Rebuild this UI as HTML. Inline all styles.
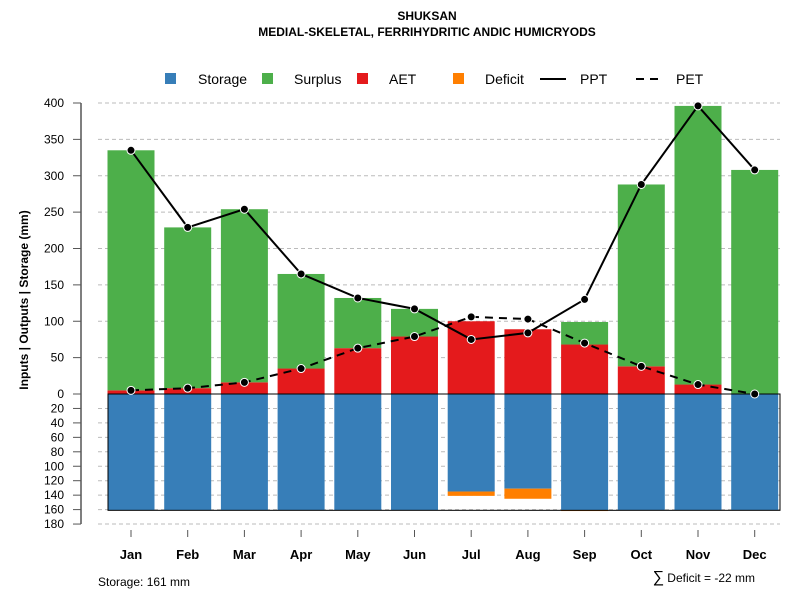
<!DOCTYPE html>
<html><head><meta charset="utf-8"><style>
body{margin:0;background:#fff;}
svg text{font-family:"Liberation Sans",sans-serif;}
</style></head><body>
<svg id="chart" width="800" height="600" xmlns="http://www.w3.org/2000/svg">
<text x="427" y="20" text-anchor="middle" font-size="12" font-weight="bold">SHUKSAN</text>
<text x="427" y="36" text-anchor="middle" font-size="12" font-weight="bold">MEDIAL-SKELETAL, FERRIHYDRITIC ANDIC HUMICRYODS</text>
<g font-size="14">
<rect x="165" y="73" width="11" height="11" fill="#377eb8"/><text x="198" y="84">Storage</text>
<rect x="262" y="73" width="11" height="11" fill="#4daf4a"/><text x="294" y="84">Surplus</text>
<rect x="357" y="73" width="11" height="11" fill="#e41a1c"/><text x="389" y="84">AET</text>
<rect x="453" y="73" width="11" height="11" fill="#ff7f00"/><text x="485" y="84">Deficit</text>
<line x1="540" y1="79" x2="566" y2="79" stroke="#000" stroke-width="2"/><text x="580" y="84">PPT</text>
<line x1="636" y1="79" x2="664" y2="79" stroke="#000" stroke-width="2" stroke-dasharray="8,6"/><text x="676" y="84">PET</text>
</g>
<text transform="translate(28,300) rotate(-90)" text-anchor="middle" font-size="12" font-weight="bold">Inputs | Outputs | Storage    (mm)</text>
<text x="98" y="586" font-size="12">Storage: 161 mm</text>
<text x="755" y="582" text-anchor="end" font-size="12"><tspan font-size="16">∑</tspan> Deficit = -22 mm</text>
<g id="plot"></g>
</svg>
<script>
const months=["Jan","Feb","Mar","Apr","May","Jun","Jul","Aug","Sep","Oct","Nov","Dec"];
const ppt=[335,229,254,165,132,117,75,84,130,288,396,308];
const pet=[5,8,16,35,63,79,106,103,70,38,13,0];
const aet=[5,8,16,35,63,79,100,89,68,38,13,0];
const surplus=[330,221,238,130,69,38,0,0,31,250,383,308];
const storage=[161,161,161,161,161,161,135,131,161,161,161,161];
const deficit=[0,0,0,0,0,0,6,14,1,0,0,0];
const upTicks=[0,50,100,150,200,250,300,350,400];
const downTicks=[20,40,60,80,100,120,140,160,180];
const NS="http://www.w3.org/2000/svg";
const g=document.getElementById('plot');
const Y0=394,S=0.7275;
const yUp=v=>Y0-v*S, yDn=v=>Y0+v*0.7225;
const xC=i=>131+i*56.7;
const BW=47;
function el(t,a){const e=document.createElementNS(NS,t);for(const k in a)e.setAttribute(k,a[k]);g.appendChild(e);return e;}
// grid
upTicks.forEach(v=>{if(v>0){const l=el('line',{x1:98,x2:780,y1:yUp(v),y2:yUp(v),stroke:'#bbb','stroke-dasharray':'4,3'});

}});
downTicks.forEach(v=>{const l=el('line',{x1:98,x2:780,y1:yDn(v),y2:yDn(v),stroke:'#bbb','stroke-dasharray':'4,3'});

});
// bars
months.forEach((m,i)=>{
 const x=xC(i)-BW/2;
 let r=el('rect',{x:x,y:yUp(aet[i]),width:BW,height:aet[i]*S,fill:'#e41a1c'});
 
 
 r=el('rect',{x:x,y:yUp(aet[i]+surplus[i]),width:BW,height:surplus[i]*S,fill:'#4daf4a'});
 
 
 r=el('rect',{x:x,y:Y0,width:BW,height:yDn(storage[i])-Y0,fill:'#377eb8'});
 
 
 r=el('rect',{x:x,y:yDn(storage[i]),width:BW,height:yDn(storage[i]+deficit[i])-yDn(storage[i]),fill:'#ff7f00'});
 
 
});
// storage frame
let fr=el('rect',{x:108,y:Y0,width:672,height:yDn(161)-Y0,fill:'none',stroke:'#000','stroke-width':1});


// axis
let ax=el('line',{x1:81,x2:81,y1:yUp(400),y2:yDn(180),stroke:'#555','stroke-width':1.5});


upTicks.forEach(v=>{el('line',{x1:73,x2:81,y1:yUp(v),y2:yUp(v),stroke:'#555'});
 const t=el('text',{x:64,y:yUp(v)+4,'text-anchor':'end','font-size':12});t.textContent=v;
 
 });
downTicks.forEach(v=>{el('line',{x1:73,x2:81,y1:yDn(v),y2:yDn(v),stroke:'#555'});
 const t=el('text',{x:64,y:yDn(v)+4,'text-anchor':'end','font-size':12});t.textContent=v;
 
 });
months.forEach((m,i)=>{el('line',{x1:xC(i),x2:xC(i),y1:530,y2:537,stroke:'#555'});
 const t=el('text',{x:xC(i),y:559,'text-anchor':'middle','font-size':13,'font-weight':'bold'});t.textContent=m;
 
 });
// lines
function line(vals,dash,name){
 const p=el('polyline',{points:vals.map((v,i)=>xC(i)+','+yUp(v)).join(' '),fill:'none',stroke:'#000','stroke-width':2,'stroke-dasharray':dash});
 
 
 vals.forEach((v,i)=>{const c=el('circle',{cx:xC(i),cy:yUp(v),r:4,fill:'#000',stroke:'#fff','stroke-width':1});
 
 });
}
line(pet,'8,6','pet');
line(ppt,'none','ppt');
</script>
</body></html>
